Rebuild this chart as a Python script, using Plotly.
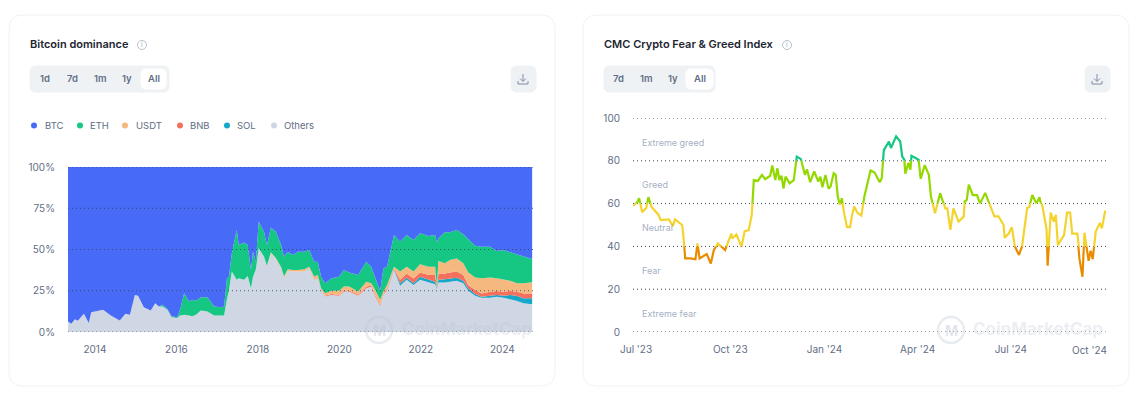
import pandas as pd
import plotly.graph_objects as go

W, H = 1145, 404

# Bitcoin dominance, shares in %
dom_years = [2013.34, 2013.42, 2013.51, 2013.58, 2013.73, 2013.85, 2013.91, 2014.02, 2014.20, 2014.39,
             2014.61, 2014.75, 2014.86, 2014.98, 2015.06, 2015.20, 2015.37, 2015.48, 2015.57, 2015.66,
             2015.78, 2015.88, 2016.02, 2016.09, 2016.19, 2016.31, 2016.39, 2016.48, 2016.60, 2016.76,
             2016.93, 2017.09, 2017.17, 2017.24, 2017.29, 2017.36, 2017.48, 2017.53, 2017.66, 2017.75,
             2017.83, 2017.88, 2017.95, 2018.02, 2018.15, 2018.22, 2018.32, 2018.44, 2018.57, 2018.64,
             2018.73, 2018.86, 2018.98, 2019.14, 2019.26, 2019.38, 2019.47, 2019.55, 2019.65, 2019.80,
             2019.99, 2020.11, 2020.24, 2020.46, 2020.66, 2020.78, 2020.88, 2021.00, 2021.08, 2021.17,
             2021.34, 2021.49, 2021.65, 2021.82, 2021.98, 2022.19, 2022.35, 2022.39, 2022.43, 2022.59,
             2022.71, 2022.88, 2023.04, 2023.16, 2023.33, 2023.49, 2023.70, 2023.86, 2024.03, 2024.19,
             2024.36, 2024.52, 2024.73]
others = [6.4, 5, 7.8, 6.8, 11, 5.4, 11.9, 12.5, 13.5, 10,
          7, 11, 10.5, 22.5, 22, 15, 13, 17.5, 15.5, 15.5,
          13.5, 9, 8.5, 10, 10.5, 10, 9.5, 10.5, 13, 12.5,
          10, 10, 10, 19.8, 25.5, 36.6, 31.6, 32.6, 31.6, 34,
          26.5, 33.5, 38, 50.7, 45.7, 39.6, 47.7, 44.2, 38.6, 32.6,
          37, 36.6, 36.6, 36.6, 38.6, 31.6, 32.6, 25.5, 21.5, 22.5,
          22, 24.6, 24.6, 22, 26.5, 27.5, 21.5, 15.7, 22.5, 25.5,
          37.6, 28, 31.6, 28.5, 31.6, 30, 29, 26, 30, 30,
          30.5, 31, 29.5, 25, 22, 20.8, 20.8, 21.4, 20.8, 20,
          18.8, 17.4, 16.8]
sol = [0] * 70 + [.3, 1.5, 1.3, 1, 1.9, 1.6, 1.5, .5, 1.6, 2, 2, 1.9, 1.5, 1.5, 1, .6, 1.2, 1, 1.2, 2.4, 3, 3, 3.6]
bnb = [0] * 54 + [.3, .4, .4, .4, .5, .5, .5, .6, .6, .6, 1, .8, 1, .8, .5, 1, .7, 2.1, 2.6, 3, 2.5, 2.9, 4, .5, 3.9,
                  3.5, 3.5, 3.7, 3.5, 2, 2.5, 2, 2.4, 2.5, 2.4, 2.4, 2.6, 3, 3]
usdt = [0] * 45 + [.6, .6, .6, .8, 1, 1, 1, 1, 1.5, .7, 1.6, 1.6, .6, 1.5, 2, 2.5, 2.4, 2.4, 2, 3, 1.2, 3, 3, 1.5, 2,
                   1, 5, 4.1, 4.1, 5, 5.1, 5.1, .5, 7.5, 6.1, 7.6, 8, 7.1, 7.7, 7.5, 9.2, 8.6, 7.7, 7.2, 6.2, 5.1,
                   6.1, 6.8]
eth = [0] * 19 + [1, .5, .5, .5, 3.5, 13, 8.5, 10, 8.5, 8, 8.5, 5.5,
                  5, 5.4, 12.7, 8, 11.1, 30.2, 20.1, 22.6, 18.7, 11.1,
                  15.2, 4.6, 16.3, 15.1, 12.5, 15.1, 16, 13.3, 12, 10.7,
                  9, 11.1, 10.6, 10.1, 9, 8, 7, 6, 7.5, 8.5,
                  10, 8.4, 10, 12.1, 10.1, 8, 5.5, 14.1, 11.1, 19.2,
                  18.1, 19.2, 19.2, 18.8, 18.6, 19.2, 26.8, 13.8, 18.8, 16.8,
                  17.2, 17.6, 20.2, 19.3, 19.1, 18.7, 16.5, 18.1, 17.3, 17.5,
                  16.7, 14]
btc = [93.6, 95, 92.2, 93.2, 89, 94.6, 88.1, 87.5, 86.5, 90,
       93, 89, 89.5, 77.5, 78, 85, 87, 82.5, 84.5, 83.5,
       86, 90.5, 91, 86.5, 76.5, 81.5, 80.5, 81, 79, 79, 84.5,
       85, 84.6, 67.5, 66.5, 52.3, 38.2, 47.3, 45.8, 47.3, 62.4,
       51.3, 57.4, 33, 39.2, 47.3, 36.6, 39.2, 47.3, 54.4, 51.3,
       53.4, 51.3, 51.3, 50.3, 57.4, 57.4, 66.5, 70.5, 67.5, 66.5,
       62.4, 64, 65.4, 57.4, 60.4, 66.5, 75, 61.4, 60.4, 41.2,
       45.3, 41.2, 44.2, 40.2, 41.8, 41.2, 45.7, 43.2, 39.6, 39.6,
       38.2, 40.8, 43.6, 47.7, 48.3, 48.3, 50.9, 50.3, 51.7, 53,
       53.8, 55.8]
dom_ticks = [2014, 2016, 2018, 2020, 2022, 2024]
dom_pct = [0, 25, 50, 75, 100]

# Fear & Greed, days counted from 1 Jul 2023
fg_days = [-3, 1, 3, 6, 10, 12, 15, 22, 24, 32, 36, 38, 45, 46, 48, 53, 58, 60, 62, 69,
           73, 76, 80, 87, 90, 93, 94, 98, 103, 106, 110, 113, 115, 119, 123, 126, 131, 133, 136, 138,
           140, 142, 144, 146, 150, 154, 157, 161, 165, 167, 170, 174, 178, 180, 182, 185, 188, 190, 193, 195,
           197, 199, 201, 203, 206, 209, 211, 213, 216, 220, 223, 225, 229, 233, 238, 240, 242, 247, 249, 254,
           258, 260, 262, 263, 266, 268, 269, 276, 278, 282, 286, 288, 292, 297, 302, 304, 307, 310, 315, 320,
           321, 323, 325, 329, 333, 336, 341, 345, 350, 354, 359, 360, 364, 367, 370, 374, 377, 382, 384, 387,
           391, 394, 397, 401, 402, 405, 408, 410, 412, 418, 421, 424, 426, 431, 433, 436, 438, 442, 444, 446,
           449, 453, 455, 458, 459]
fg_vals = [59, 60.5, 62.5, 56, 58, 63, 58.6, 54.7, 52.3, 52.6, 49.5, 52.6, 50, 46, 34.4, 34.4, 34, 41.4, 34.4, 36.4,
           32, 38.3, 41.4, 38.3, 42, 46, 43.7, 45.6, 39.8, 47, 47.6, 54.7, 71, 70.6, 73.4, 71.4, 73, 77.8, 71, 76.5,
           71, 73, 67, 72.6, 69.5, 71, 82, 80.8, 73.4, 76, 70, 75, 70.3, 72.6, 67.6, 73.4, 67, 68, 74.2, 73.4,
           63.3, 59.4, 62.5, 56, 49, 49, 54.7, 58.6, 55.8, 54.4, 63.3, 67.6, 75.5, 74.5, 70, 72, 85, 89, 86, 91.4,
           89, 82, 80.5, 74, 79, 75.8, 82.3, 80.5, 71.6, 78, 73.4, 63.3, 55.5, 64.8, 57.8, 57.8, 47.7, 57.8, 51.6, 53.9,
           61, 61.7, 68.8, 64, 64, 60, 65, 60, 54, 54, 50, 44, 46, 49, 40, 36, 40, 58, 58.3, 64,
           60, 63, 58.6, 47.7, 31, 55.8, 51.6, 54.7, 40.6, 45.3, 55.8, 55.8, 46, 46, 34.4, 25.8, 46.4, 33.3, 38, 34,
           46.9, 51, 48.4, 56.2, 56.6]
fg_grid = [0, 20, 40, 60, 80, 100]
fg_ticks = ["2023-07-01", "2023-10-01", "2024-01-01", "2024-04-01", "2024-07-01"]
fg_ticktext = ["Jul '23", "Oct '23", "Jan '24", "Apr '24", "Jul '24"]
fg_band_names = ["Extreme greed", "Greed", "Neutral", "Fear", "Extreme fear"]
fg_band_y = [142, 185, 228, 270, 313]

INK = "#616E85"
FONT = "Inter"
COLORS = {"BTC": "#476BF6", "ETH": "#16C784", "USDT": "#F5B97F", "BNB": "#F6705E", "SOL": "#16A7C9", "Others": "#CFD6E4"}


def px(x):
    return x / W


def py(y):
    return 1 - y / H


def round_rect(x0, y0, x1, y1, r):
    a, b = px, py
    return (f"M{a(x0 + r)},{b(y0)} L{a(x1 - r)},{b(y0)} Q{a(x1)},{b(y0)} {a(x1)},{b(y0 + r)} "
            f"L{a(x1)},{b(y1 - r)} Q{a(x1)},{b(y1)} {a(x1 - r)},{b(y1)} L{a(x0 + r)},{b(y1)} "
            f"Q{a(x0)},{b(y1)} {a(x0)},{b(y1 - r)} L{a(x0)},{b(y0 + r)} Q{a(x0)},{b(y0)} {a(x0 + r)},{b(y0)} Z")


shapes, notes = [], []


def box(x0, y0, x1, y1, r, fill, line=None, layer="below"):
    shapes.append(dict(type="path", xref="paper", yref="paper", path=round_rect(x0, y0, x1, y1, r),
                       fillcolor=fill, line=dict(color=line or fill, width=1), layer=layer))


def circle(cx, cy, r, fill="rgba(0,0,0,0)", line=None, width=1, layer="below"):
    shapes.append(dict(type="circle", xref="paper", yref="paper", x0=px(cx - r), x1=px(cx + r),
                       y0=py(cy + r), y1=py(cy - r), fillcolor=fill,
                       line=dict(color=line or "rgba(0,0,0,0)", width=width), layer=layer))


def label(x, y, text, size=10, color=INK, anchor="left", weight=400):
    notes.append(dict(xref="paper", yref="paper", x=px(x), y=py(y), text=text, showarrow=False, xanchor=anchor,
                      yanchor="middle", font=dict(family=FONT, size=size, color=color, weight=weight),
                      borderpad=0))


def seg(x0, y0, x1, y1, color="#7F8CA3", width=1):
    shapes.append(dict(type="line", xref="paper", yref="paper", x0=px(x0), x1=px(x1), y0=py(y0), y1=py(y1),
                       line=dict(color=color, width=width), layer="below"))


def header(left, right, title, info_x, buttons, btn_xs, group_right, all_x0, all_x1):
    box(left, 15, right, 386, 14, "#FFFFFF", "#EFF2F5")
    label(left + 20, 44.5, title, size=11, color="#222531", weight=600)
    circle(info_x, 45, 4.5, line="#A6B0C3", width=0.8)
    label(info_x, 45, "i", size=7, color="#A6B0C3", anchor="center")
    box(left + 21, 66, group_right, 92, 6, "#EFF2F5")
    box(all_x0, 69, all_x1, 89, 5, "#FFFFFF")
    for b, x in zip(buttons, btn_xs):
        label(x, 79, b, size=9.5, weight=600, anchor="center")
    # download button
    dx = right - 32
    box(dx - 12, 66, dx + 13, 92, 6, "#EFF2F5")
    seg(dx, 74, dx, 81)
    seg(dx - 3, 78.5, dx, 81.5)
    seg(dx + 3, 78.5, dx, 81.5)
    seg(dx - 5, 81, dx - 5, 84)
    seg(dx + 5, 81, dx + 5, 84)
    seg(dx - 5, 84, dx + 5, 84)


def watermark(cx, text_x):
    circle(cx, 330, 13, line="rgba(190,197,210,0.35)", width=2.5, layer="above")
    label(cx, 330, "M", size=14, color="rgba(190,197,210,0.45)", anchor="center", weight=700)
    label(text_x, 329, "CoinMarketCap", size=17, color="rgba(190,197,210,0.3)", weight=700)


header(9, 555, "Bitcoin dominance", 142, ["1d", "7d", "1m", "1y", "All"], [45, 72, 100, 127, 154], 169, 141, 166)
header(583, 1129, "CMC Crypto Fear &amp; Greed Index", 787, ["7d", "1m", "1y", "All"], [618, 646, 673, 700], 715, 686, 713)

# legend of the left card
for name, dot_x, text_x in zip(COLORS, [34, 80, 125, 180, 227, 274], [44, 89, 135, 189, 236, 283]):
    circle(dot_x, 125.5, 3, fill=COLORS[name])
    label(text_x, 125.5, name, size=9.5)

fig = go.Figure()

stack = [("Others", others), ("SOL", sol), ("BNB", bnb), ("USDT", usdt), ("ETH", eth), ("BTC", btc)]
for name, vals in stack:
    fig.add_trace(go.Scatter(x=dom_years, y=vals, name=name, stackgroup="one", mode="lines",
                             line=dict(width=0, color=COLORS[name]), fillcolor=COLORS[name],
                             xaxis="x", yaxis="y"))

DOTS = "1px,3px"
# dotted lines sit on top of the areas on the left chart
for v in dom_pct:
    shapes.append(dict(type="line", xref="paper", yref="y", x0=px(68), x1=px(535), y0=v, y1=v, layer="above",
                       line=dict(color="rgba(50,60,80,0.8)", width=1, dash=DOTS)))
for v in fg_grid:
    shapes.append(dict(type="line", xref="paper", yref="y2", x0=px(633), x1=px(1106), y0=v, y1=v, layer="below",
                       line=dict(color="#3A4254", width=1, dash=DOTS)))

# every colour band is its own clipped y axis
fg_dates = pd.Timestamp("2023-07-01") + pd.to_timedelta(fg_days, unit="D")
bands = [("y3", 80, 100, "#16C784"), ("y4", 60, 80, "#93D900"), ("y5", 40, 60, "#F3D42F"), ("y6", 0, 40, "#EA8C00")]
for ya, lo, hi, color in bands:
    fig.add_trace(go.Scatter(x=fg_dates, y=fg_vals, mode="lines", line=dict(color=color, width=2.2),
                             xaxis="x2", yaxis=ya, showlegend=False))

for name, y in zip(fg_band_names, fg_band_y):
    label(641, y, name, size=9, color="#A6B0C3")
# last month label is pulled in so it stays under the plot
label(1108, 350, "Oct '24", anchor="right")

watermark(379, 401)
watermark(951, 972)


def fg_y(v):
    return py(332 - v * 2.14)


tick_font = dict(family=FONT, size=10, color=INK)
CLEAR = "rgba(0,0,0,0)"
layout = dict(
    width=W, height=H, margin=dict(l=0, r=0, t=0, b=0, autoexpand=False), showlegend=False,
    paper_bgcolor="#FFFFFF", plot_bgcolor=CLEAR, shapes=shapes, annotations=notes,
    xaxis=dict(domain=[px(68), px(535)], range=[2013.34, 2024.8], tickvals=dom_ticks, ticktext=[str(t) for t in dom_ticks],
               showgrid=False, zeroline=False, showline=False, ticks="outside", ticklen=8, tickcolor=CLEAR,
               tickfont=tick_font, anchor="y", automargin=False),
    yaxis=dict(domain=[py(332), py(167)], range=[0, 100], tickvals=dom_pct, ticktext=[f"{v}%" for v in dom_pct],
               showgrid=False, zeroline=False, showline=False, ticks="outside", ticklen=10, tickcolor=CLEAR,
               tickfont=tick_font, anchor="x", automargin=False),
    xaxis2=dict(domain=[px(633), px(1106)], range=["2023-06-28", "2024-10-02"], tickvals=fg_ticks, ticktext=fg_ticktext,
                showgrid=False, zeroline=False, showline=False, ticks="outside", ticklen=8, tickcolor=CLEAR,
                tickfont=tick_font, anchor="y2", automargin=False),
    yaxis2=dict(domain=[py(332), py(118)], range=[0, 100], tickvals=fg_grid, showgrid=False, zeroline=False,
                showline=False, ticks="outside", ticklen=10, tickcolor=CLEAR, tickfont=tick_font, anchor="x2",
                automargin=False),
)
for ya, lo, hi, color in bands:
    layout["yaxis" + ya[1:]] = dict(domain=[fg_y(lo), fg_y(hi)], range=[lo, hi], visible=False, anchor="x2")
fig.update_layout(**layout)
# a hidden trace keeps the main axis of the right chart alive
fig.add_trace(go.Scatter(x=fg_dates[:1], y=fg_vals[:1], mode="markers", marker=dict(opacity=0), xaxis="x2", yaxis="y2",
                         showlegend=False, hoverinfo="skip"))

fig.write_html("out.html", config={"displayModeBar": False},
               post_script="document.body.style.margin='0';document.body.style.overflow='hidden';")
